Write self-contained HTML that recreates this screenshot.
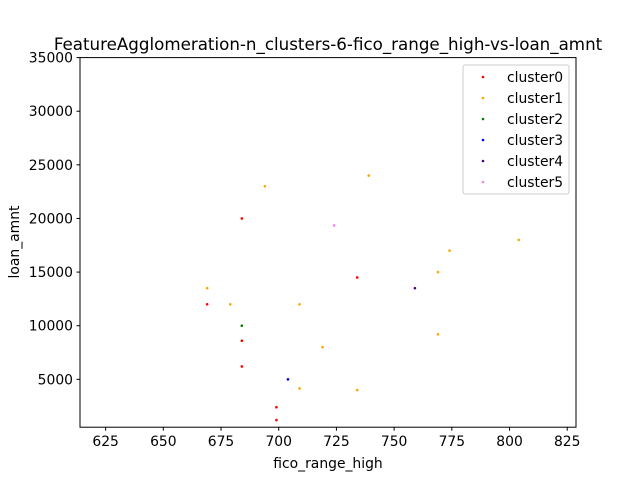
<!DOCTYPE html>
<html><head><meta charset="utf-8"><style>
body{margin:0;background:#fff;}
svg{display:block;font-family:"DejaVu Sans","Liberation Sans",sans-serif;}
</style></head><body>
<svg id="chart" width="640" height="480" xmlns="http://www.w3.org/2000/svg"></svg>
<script>
const seriesNames=["cluster0","cluster1","cluster2","cluster3","cluster4","cluster5"];
const seriesColors=["red","orange","green","blue","indigo","violet"];
const c0x=[684,669,684,684,734,699,699];
const c0y=[20000,12000,8600,6200,14500,2400,1200];
const c1x=[694,739,669,679,709,719,709,734,804,774,769,769];
const c1y=[23000,24000,13500,12000,12000,8000,4150,4000,18000,17000,15000,9200];
const c2x=[684];const c2y=[10000];
const c3x=[704];const c3y=[5000];
const c4x=[759];const c4y=[13500];
const c5x=[724];const c5y=[19350];
const xTicks=[625,650,675,700,725,750,775,800,825];
const yTicks=[5000,10000,15000,20000,25000,30000,35000];
const NS="http://www.w3.org/2000/svg";
const svg=document.getElementById('chart');
const L=80,R=576,T=57.6,B=427.2;
const xMin=613.9,xMax=828.8,yMin=537,yMax=35000;
const sx=v=>L+(v-xMin)/(xMax-xMin)*(R-L);
const sy=v=>B-(v-yMin)/(yMax-yMin)*(B-T);
function mk(t,a){const e=document.createElementNS(NS,t);for(const k in a)e.setAttribute(k,a[k]);svg.appendChild(e);return e;}
const title=mk('text',{x:328,y:50,'text-anchor':'middle','font-size':16.7});title.textContent="FeatureAgglomeration-n_clusters-6-fico_range_high-vs-loan_amnt";

const frame=mk('rect',{x:L,y:T,width:R-L,height:B-T,fill:'none',stroke:'#000','stroke-width':1});

xTicks.forEach(v=>{const x=sx(v);mk('line',{x1:x,x2:x,y1:B,y2:B+3.5,stroke:'#000'});
const t=mk('text',{x:x,y:B+19,'text-anchor':'middle','font-size':13.9});t.textContent=v;
});
yTicks.forEach(v=>{const y=sy(v);mk('line',{x1:L-3.5,x2:L,y1:y,y2:y,stroke:'#000'});
const t=mk('text',{x:L-7,y:y+5,'text-anchor':'end','font-size':13.9});t.textContent=v;
});
const xt=mk('text',{x:328,y:468,'text-anchor':'middle','font-size':13.9});xt.textContent="fico_range_high";

const yt=mk('text',{x:19,y:242,'text-anchor':'middle','font-size':13.9,transform:'rotate(-90 19 242)'});yt.textContent="loan_amnt";

const XS=[c0x,c1x,c2x,c3x,c4x,c5x],YS=[c0y,c1y,c2y,c3y,c4y,c5y];
XS.forEach((xs,i)=>xs.forEach((v,j)=>{const p=mk('circle',{cx:sx(v),cy:sy(YS[i][j]),r:1.3,fill:seriesColors[i]});
}));
const lg=mk('rect',{x:463,y:65,width:106,height:129,fill:'#fff',stroke:'#ccc',rx:2});

seriesNames.forEach((n,i)=>{const y=77+i*21;
mk('circle',{cx:483,cy:y,r:1.3,fill:seriesColors[i]});
const t=mk('text',{x:507,y:y+5,'font-size':13.9});t.textContent=n;
});
</script>
</body></html>
